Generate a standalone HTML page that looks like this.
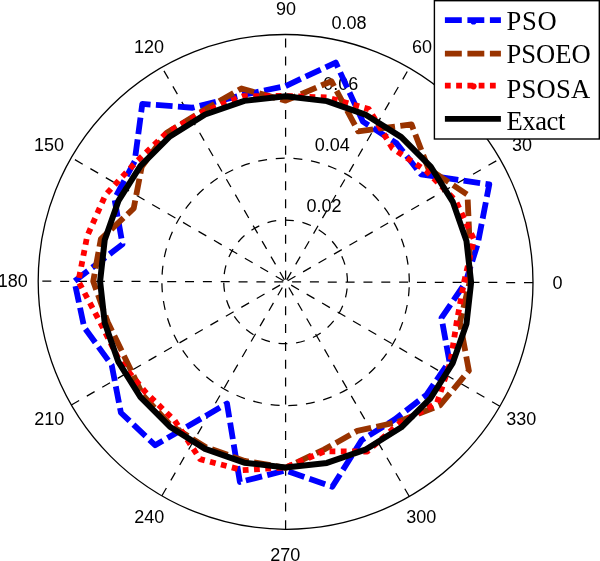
<!DOCTYPE html>
<html><head><meta charset="utf-8"><title>Polar plot</title>
<style>
html,body{margin:0;padding:0;background:#fff;}
body{width:600px;height:561px;overflow:hidden;}
svg{display:block;}
.lab{font-family:"Liberation Sans",sans-serif;font-size:18px;fill:#000;}
.leg{font-family:"Liberation Serif",serif;font-size:26.6px;fill:#000;}
.grid{stroke:#000;stroke-width:1.25;fill:none;stroke-dasharray:9 8.84;}
</style></head><body>
<svg width="600" height="561" viewBox="0 0 600 561">
<rect x="0" y="0" width="600" height="561" fill="#fff"/>

<g transform="matrix(1,0.00283,0,1,0,-0.81)">
<circle cx="285.6" cy="281.9" r="247.4" fill="none" stroke="#000" stroke-width="1.3"/>
<path class="grid" style="stroke-dasharray:8.95 8.79" d="M347.45,281.90 A61.85,61.85 0 0 0 223.75,281.90 A61.85,61.85 0 0 0 347.45,281.90"/>
<path class="grid" style="stroke-dasharray:8.95 8.79" d="M409.30,281.90 A123.70,123.70 0 0 0 161.90,281.90 A123.70,123.70 0 0 0 409.30,281.90"/>
<path class="grid" style="stroke-dasharray:8.95 8.79" d="M471.15,281.90 A185.55,185.55 0 0 0 100.05,281.90 A185.55,185.55 0 0 0 471.15,281.90"/>
<line class="grid" x1="71.35" y1="405.60" x2="499.85" y2="158.20"/>
<line class="grid" x1="161.90" y1="496.15" x2="409.30" y2="67.65"/>
<line class="grid" x1="285.60" y1="529.30" x2="285.60" y2="34.50"/>
<line class="grid" x1="409.30" y1="496.15" x2="161.90" y2="67.65"/>
<line class="grid" x1="499.85" y1="405.60" x2="71.35" y2="158.20"/>
<line class="grid" x1="533.00" y1="281.90" x2="38.20" y2="281.90"/>
</g>
<text class="lab" x="557.4" y="288.7" text-anchor="middle">0</text>
<text class="lab" x="522" y="150.5" text-anchor="middle">30</text>
<text class="lab" x="422.1" y="52.6" text-anchor="middle">60</text>
<text class="lab" x="286.0" y="15.4" text-anchor="middle">90</text>
<text class="lab" x="148.9" y="52.5" text-anchor="middle">120</text>
<text class="lab" x="48.9" y="150.8" text-anchor="middle">150</text>
<text class="lab" x="12.8" y="287.4" text-anchor="middle">180</text>
<text class="lab" x="49.2" y="424.6" text-anchor="middle">210</text>
<text class="lab" x="149.2" y="523.3" text-anchor="middle">240</text>
<text class="lab" x="285.2" y="560.9" text-anchor="middle">270</text>
<text class="lab" x="421.35" y="523.4" text-anchor="middle">300</text>
<text class="lab" x="521.35" y="424.7" text-anchor="middle">330</text>
<text class="lab" x="324.0" y="212.0" text-anchor="middle">0.02</text>
<text class="lab" x="332.2" y="151.05" text-anchor="middle">0.04</text>
<text class="lab" x="340.75" y="90.25" text-anchor="middle">0.06</text>
<text class="lab" x="349.0" y="29.4" text-anchor="middle">0.08</text>
<g transform="matrix(1,0.00283,0,1,0,-0.81)">
<polyline points="465.6,281.9 477.8,243.0 489.3,183.8 421.0,173.9 396.5,142.9 362.9,121.4 335.7,62.4 285.6,86.1 242.9,95.0 192.5,108.0 142.3,104.3 134.7,161.6 114.5,199.5 122.5,244.7 74.4,281.9 84.2,327.9 111.7,365.6 120.9,413.2 155.1,445.6 227.0,403.7 239.9,482.1 285.6,470.5 332.3,486.6 361.7,439.9 394.9,419.0 426.6,394.3 449.4,360.8 441.5,317.5 465.6,281.9" fill="none" stroke="#0000ff" stroke-width="5.8" stroke-dasharray="16.7 5.37" stroke-linejoin="round"/>
<polyline points="469.6,281.9 469.5,239.9 467.5,194.3 428.3,168.1 411.5,124.0 358.2,131.2 331.4,81.1 285.6,100.7 241.5,88.6 203.2,110.8 166.8,133.0 141.7,167.2 133.7,208.8 100.8,239.7 93.2,281.9 107.7,322.5 125.4,359.1 142.9,395.7 170.9,425.8 205.9,447.4 244.7,461.0 285.6,467.8 323.9,449.5 357.3,430.7 397.2,421.9 439.9,404.9 468.9,370.2 459.9,321.7 469.6,281.9" fill="none" stroke="#993300" stroke-width="5.8" stroke-dasharray="16.7 5.37" stroke-linejoin="round"/>
<polyline points="464.0,281.9 474.0,238.9 455.6,200.1 425.8,170.1 392.4,148.0 368.9,108.9 327.7,97.4 285.6,96.0 243.2,96.2 203.8,111.9 166.8,133.0 135.9,162.5 105.6,195.2 87.2,236.6 78.4,281.9 100.8,324.1 119.8,361.7 146.1,393.2 174.7,420.9 200.1,459.4 242.6,470.3 285.6,467.4 324.3,451.3 367.2,451.3 398.6,423.6 437.0,402.6 450.5,361.3 456.8,321.0 464.0,281.9" fill="none" stroke="#ff0000" stroke-width="5.8" stroke-dasharray="5.8 5.46" stroke-linejoin="round"/>
<polyline points="471.1,281.9 466.5,240.6 452.8,201.4 430.7,166.2 401.3,136.8 366.1,114.7 326.9,101.0 285.6,96.3 244.3,101.0 205.1,114.7 169.9,136.8 140.5,166.2 118.4,201.4 104.7,240.6 100.1,281.9 104.7,323.2 118.4,362.4 140.5,397.6 169.9,427.0 205.1,449.1 244.3,462.8 285.6,467.4 326.9,462.8 366.1,449.1 401.3,427.0 430.7,397.6 452.8,362.4 466.5,323.2 471.1,281.9" fill="none" stroke="#000" stroke-width="6" stroke-linejoin="round"/>
</g>
<rect x="434.4" y="0.7" width="164.9" height="138.3" fill="#fff" stroke="#000" stroke-width="1.4"/>
<line x1="444.9" y1="20.05" x2="500.9" y2="20.05" stroke="#0000ff" stroke-width="5.8" stroke-dasharray="16.9 5.6"/>
<circle cx="473.5" cy="21.45" r="3.1" fill="#0000ff"/>
<text class="leg" x="506.5" y="30.0" letter-spacing="0.65">PSO</text>
<line x1="444.9" y1="53.7" x2="500.9" y2="53.7" stroke="#993300" stroke-width="5.8" stroke-dasharray="16.9 5.6"/>
<text class="leg" x="506.5" y="62.8" letter-spacing="0">PSOEO</text>
<line x1="444.9" y1="85.7" x2="500.9" y2="85.7" stroke="#ff0000" stroke-width="5.8" stroke-dasharray="5.8 5.46"/>
<circle cx="473.5" cy="86.3" r="3.1" fill="#ff0000"/>
<text class="leg" x="506.5" y="97.5" letter-spacing="0.2">PSOSA</text>
<line x1="444.9" y1="118.8" x2="500.9" y2="118.8" stroke="#000" stroke-width="5.8"/>
<text class="leg" x="506.5" y="130.0" letter-spacing="-0.44">Exact</text>
</svg></body></html>
